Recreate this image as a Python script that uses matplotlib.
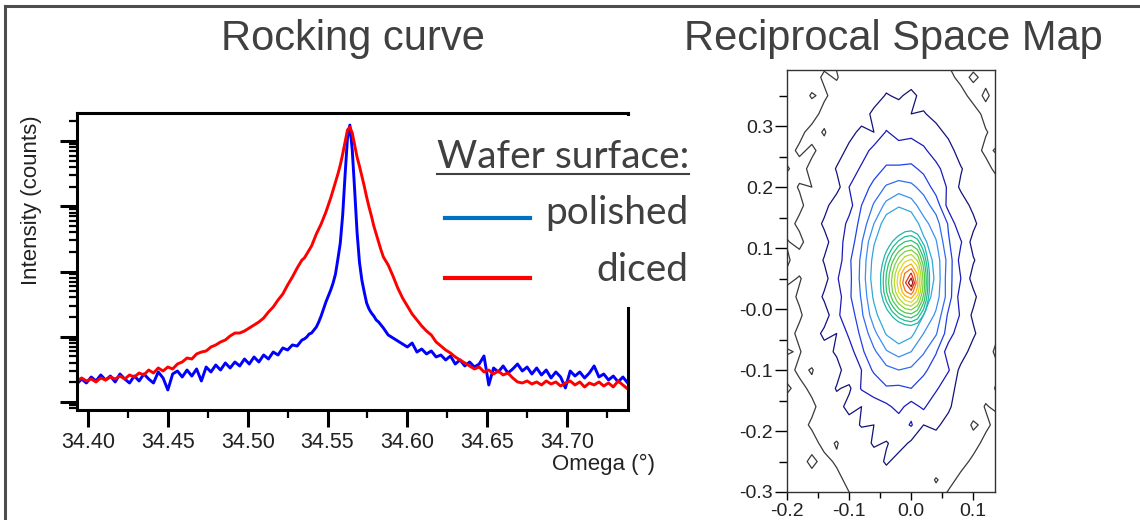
import numpy as np
import matplotlib
matplotlib.use("Agg")
import matplotlib.pyplot as plt
from matplotlib.lines import Line2D
from matplotlib.ticker import MultipleLocator, LogLocator, NullFormatter, FormatStrFormatter

plt.rcParams['font.family'] = ['Liberation Sans', 'DejaVu Sans']

# ---- rocking curve: omega (deg) and log10(counts) ----
omega = [34.393, 34.396, 34.399, 34.402, 34.405, 34.408, 34.411, 34.414, 34.417, 34.420,
         34.423, 34.426, 34.429, 34.432, 34.435, 34.438, 34.441, 34.444, 34.447, 34.450,
         34.453, 34.456, 34.459, 34.462, 34.465, 34.468, 34.471, 34.474, 34.477, 34.480,
         34.483, 34.486, 34.489, 34.492, 34.495, 34.498, 34.501, 34.504, 34.507, 34.510,
         34.513, 34.516, 34.519, 34.522, 34.525, 34.528, 34.531, 34.534,
         34.5355, 34.537, 34.5385, 34.540, 34.5415, 34.543, 34.5445, 34.546, 34.5475, 34.549,
         34.5505, 34.552, 34.5535, 34.555, 34.5565, 34.558, 34.5595, 34.561, 34.5625, 34.564,
         34.5655, 34.567, 34.5685, 34.570, 34.5715, 34.573, 34.5745, 34.576, 34.5775, 34.579,
         34.5805, 34.582, 34.5835, 34.585,
         34.588, 34.591, 34.594, 34.597, 34.600, 34.603, 34.606, 34.609, 34.612, 34.615,
         34.618, 34.621, 34.624, 34.627, 34.630, 34.633, 34.636, 34.639, 34.642, 34.645,
         34.648, 34.651, 34.654, 34.657, 34.660, 34.663, 34.666, 34.669, 34.672, 34.675,
         34.678, 34.681, 34.684, 34.687, 34.690, 34.693, 34.696, 34.699, 34.702, 34.705,
         34.708, 34.711, 34.714, 34.717, 34.720, 34.723, 34.726, 34.729, 34.732, 34.735,
         34.738]

polished_log10 = [1.276, 1.352, 1.291, 1.383, 1.322, 1.414, 1.337, 1.398, 1.307, 1.429,
                  1.352, 1.291, 1.398, 1.322, 1.429, 1.352, 1.291, 1.460, 1.368, 1.184,
                  1.429, 1.475, 1.383, 1.490, 1.398, 1.506, 1.322, 1.536, 1.460, 1.567,
                  1.490, 1.598, 1.521, 1.613, 1.552, 1.659, 1.582, 1.690, 1.613, 1.720,
                  1.659, 1.766, 1.720, 1.828, 1.797, 1.874, 1.858, 1.950,
                  1.966, 1.996, 2.042, 2.057, 2.103, 2.149, 2.226, 2.318, 2.425, 2.533,
                  2.625, 2.716, 2.824, 2.962, 3.192, 3.437, 3.866, 4.479, 5.046, 5.245,
                  4.862, 4.249, 3.605, 3.146, 2.870, 2.686, 2.517, 2.425, 2.364, 2.318,
                  2.257, 2.226, 2.180, 2.134,
                  2.027, 1.981, 1.935, 1.889, 1.843, 1.904, 1.766, 1.812, 1.736, 1.782,
                  1.690, 1.720, 1.644, 1.705, 1.582, 1.644, 1.552, 1.613, 1.536, 1.582,
                  1.705, 1.261, 1.521, 1.460, 1.552, 1.444, 1.506, 1.582, 1.475, 1.536,
                  1.429, 1.521, 1.414, 1.490, 1.368, 1.460, 1.383, 1.215, 1.475, 1.398,
                  1.460, 1.368, 1.444, 1.552, 1.383, 1.429, 1.337, 1.398, 1.307, 1.383,
                  1.291]

diced_log10 = [1.322, 1.368, 1.322, 1.352, 1.307, 1.368, 1.337, 1.383, 1.352, 1.398,
               1.352, 1.414, 1.383, 1.444, 1.414, 1.490, 1.444, 1.521, 1.475, 1.536,
               1.506, 1.582, 1.613, 1.674, 1.659, 1.736, 1.766, 1.782, 1.843, 1.874,
               1.920, 1.950, 2.012, 2.057, 2.057, 2.088, 2.134, 2.180, 2.226, 2.287,
               2.379, 2.456, 2.563, 2.655, 2.793, 2.916, 3.054, 3.176,
               3.207, 3.268, 3.330, 3.391, 3.483, 3.575, 3.651, 3.728, 3.820, 3.912,
               4.019, 4.127, 4.249, 4.372, 4.494, 4.632, 4.801, 4.985, 5.169, 5.215,
               5.123, 4.939, 4.755, 4.617, 4.464, 4.310, 4.142, 3.989, 3.851, 3.697,
               3.575, 3.452, 3.330, 3.222,
               3.100, 2.931, 2.747, 2.594, 2.471, 2.349, 2.257, 2.165, 2.088, 2.027,
               1.920, 1.858, 1.797, 1.751, 1.690, 1.644, 1.598, 1.552, 1.506, 1.536,
               1.460, 1.490, 1.429, 1.475, 1.414, 1.444, 1.368, 1.307, 1.291, 1.322,
               1.276, 1.307, 1.261, 1.322, 1.276, 1.307, 1.245, 1.291, 1.322, 1.261,
               1.307, 1.230, 1.291, 1.261, 1.307, 1.245, 1.291, 1.230, 1.322, 1.261,
               1.199]

series_labels = ['polished', 'diced']

# ---- reciprocal space map: contour level index, coarse grid + finer grid round the peak ----
qx_outer = [-0.20, -0.18, -0.16, -0.14, -0.12, -0.10, -0.08, -0.06, -0.04,
            -0.02, 0.00, 0.02, 0.04, 0.06, 0.08, 0.10, 0.12, 0.14]
qz_outer = [-0.31, -0.28, -0.25, -0.22, -0.19, -0.16, -0.13, -0.10, -0.07, -0.04,
            -0.01, 0.02, 0.05, 0.08, 0.11, 0.14, 0.17, 0.20, 0.23, 0.26,
            0.29, 0.32, 0.35, 0.38, 0.41]
rsm_outer = [
    [0.4, 0.0, 0.3, 0.0, 0.6, 0.3, 0.9, 0.5, 0.8, 0.5, 1.1, 0.6, 1.0, 0.1, 0.6, 0.1, 0.4, 0.0],
    [0.0, 0.5, 0.0, 0.4, 0.1, 0.9, 0.7, 1.4, 0.7, 1.2, 0.8, 1.2, 0.4, 1.0, 0.1, 0.5, 0.0, 0.4],
    [0.3, 0.0, 0.8, 0.1, 0.7, 0.6, 1.3, 0.8, 1.7, 1.0, 1.5, 0.8, 1.3, 0.7, 1.0, 0.2, 0.4, 0.0],
    [0.0, 0.5, 0.0, 0.9, 0.4, 1.2, 0.8, 1.7, 1.4, 2.0, 1.3, 1.5, 1.0, 1.3, 0.7, 1.0, 0.1, 0.4],
    [0.3, 0.0, 0.7, 0.5, 1.3, 1.0, 1.6, 1.5, 2.3, 2.0, 2.6, 1.5, 1.7, 1.1, 1.3, 0.3, 0.8, 0.0],
    [0.0, 0.4, 0.2, 1.1, 1.0, 1.9, 1.5, 2.4, 2.3, 2.8, 2.1, 2.7, 1.6, 1.7, 0.8, 1.2, 0.4, 0.8],
    [0.7, 0.1, 0.8, 0.7, 1.6, 1.3, 2.6, 2.6, 3.4, 3.3, 3.5, 2.8, 2.7, 1.6, 1.4, 0.7, 1.0, 0.3],
    [0.0, 0.8, 0.4, 1.3, 1.0, 2.3, 2.5, 3.7, 4.2, 4.5, 4.3, 3.8, 2.8, 2.6, 1.2, 1.3, 0.6, 0.7],
    [0.6, 0.4, 1.2, 1.0, 1.7, 2.0, 3.3, 4.3, 5.4, 5.9, 5.5, 4.6, 3.6, 2.0, 2.1, 1.0, 1.1, 0.1],
    [0.0, 0.8, 0.8, 1.8, 1.5, 2.7, 3.7, 5.2, 6.6, 7.3, 6.8, 5.5, 4.6, 3.0, 1.8, 1.7, 0.7, 0.6],
    [0.5, 0.3, 1.2, 0.9, 2.4, 2.8, 4.3, 6.1, 7.5, 7.5, 7.5, 6.5, 5.3, 3.3, 2.4, 1.3, 1.5, 0.3],
    [0.0, 0.7, 0.6, 1.7, 2.0, 3.3, 4.6, 6.7, 7.5, 7.5, 7.5, 7.2, 6.0, 4.0, 2.0, 1.8, 0.6, 1.0],
    [0.8, 0.4, 1.1, 1.1, 2.4, 3.2, 4.8, 7.1, 7.5, 7.5, 7.5, 7.5, 6.3, 3.9, 2.5, 1.1, 1.4, 0.4],
    [0.3, 1.1, 0.7, 1.6, 1.9, 3.3, 4.7, 6.9, 7.5, 7.5, 7.5, 7.4, 6.1, 4.1, 2.1, 1.6, 0.8, 0.9],
    [0.6, 0.1, 1.3, 1.1, 2.2, 2.8, 4.4, 6.4, 7.5, 7.5, 7.5, 6.8, 5.6, 3.6, 2.6, 1.1, 1.2, 0.4],
    [0.0, 0.8, 0.8, 1.7, 1.7, 2.8, 3.8, 5.5, 7.2, 7.5, 7.4, 5.9, 4.9, 3.4, 1.6, 1.8, 0.7, 0.8],
    [0.4, 0.2, 1.1, 1.1, 2.2, 2.1, 3.5, 4.6, 5.8, 6.4, 6.0, 4.9, 4.1, 2.1, 2.1, 1.2, 1.3, 0.3],
    [0.0, 0.6, 0.5, 1.4, 1.1, 2.5, 2.8, 3.9, 4.6, 5.0, 4.7, 4.2, 3.0, 2.4, 1.3, 1.5, 0.7, 1.0],
    [0.6, 0.1, 0.8, 0.6, 1.6, 1.7, 2.7, 2.9, 3.7, 3.6, 3.8, 3.2, 3.0, 1.6, 1.6, 0.8, 1.0, 0.0],
    [0.1, 0.7, 0.3, 0.9, 0.9, 1.8, 1.9, 2.9, 2.7, 3.1, 2.7, 2.8, 1.7, 2.0, 0.9, 1.1, 0.2, 0.7],
    [0.4, 0.2, 0.9, 0.4, 1.2, 1.1, 1.8, 1.5, 2.6, 2.0, 2.4, 1.6, 1.9, 1.2, 1.4, 0.6, 0.6, 0.0],
    [0.0, 0.5, 0.0, 0.9, 0.5, 1.3, 0.9, 1.8, 1.6, 2.2, 1.5, 1.6, 1.1, 1.4, 0.8, 1.1, 0.1, 0.5],
    [0.2, 0.0, 0.6, 0.3, 1.0, 0.7, 1.2, 0.9, 1.6, 1.3, 1.9, 1.0, 1.3, 0.7, 1.0, 0.0, 0.7, 0.0],
    [0.0, 0.2, 0.0, 0.7, 0.4, 1.2, 0.5, 1.2, 0.9, 1.4, 0.7, 1.4, 0.6, 0.9, 0.1, 0.7, 0.2, 0.5],
    [0.5, 0.0, 0.3, 0.1, 0.7, 0.1, 1.0, 0.4, 1.0, 0.5, 1.1, 0.7, 1.0, 0.3, 0.5, 0.0, 0.5, 0.0],
]

qx_inner = [-0.06, -0.05, -0.04, -0.03, -0.02, -0.01, 0.00, 0.01, 0.02, 0.03, 0.04]
qz_inner = [-0.047, -0.032, -0.017, -0.002, 0.013, 0.028, 0.043,
            0.058, 0.073, 0.088, 0.103, 0.118, 0.133, 0.148]
rsm_inner = [
    [6, 6, 6, 6, 6, 6, 6, 6, 6, 6, 6],
    [6, 6, 6, 6, 6, 6.5, 6.7, 6.2, 6, 6, 6],
    [6, 6, 6, 7.0, 8.1, 8.8, 9.1, 8.4, 6.6, 6, 6],
    [6, 6, 7.2, 8.8, 10.2, 11.1, 11.4, 10.5, 8.3, 6, 6],
    [6, 6.5, 8.5, 10.4, 12.0, 13.3, 13.8, 12.5, 9.8, 6.5, 6],
    [6, 7.2, 9.4, 11.5, 13.5, 15.3, 16.1, 14.1, 10.8, 7.2, 6],
    [6, 7.3, 9.7, 11.9, 14.1, 16.3, 18.5, 14.8, 11.2, 7.3, 6],
    [6, 7.3, 9.5, 11.6, 13.7, 15.6, 16.6, 14.4, 10.9, 7.3, 6],
    [6, 6.8, 8.9, 10.8, 12.6, 14.0, 14.6, 13.2, 10.2, 6.8, 6],
    [6, 6.1, 8.0, 9.7, 11.2, 12.3, 12.7, 11.6, 9.1, 6.1, 6],
    [6, 6, 6.8, 8.3, 9.6, 10.4, 10.7, 9.9, 7.8, 6, 6],
    [6, 6, 6, 6.8, 7.8, 8.6, 8.8, 8.1, 6.3, 6, 6],
    [6, 6, 6, 6, 6.1, 6.7, 6.9, 6.3, 6, 6, 6],
    [6, 6, 6, 6, 6, 6, 6, 6, 6, 6, 6],
]

rsm_xticks = [-0.2, -0.1, 0.0, 0.1]
rsm_xlabels = ['-0.2', '-0.1', '0.0', '0.1']
rsm_yticks = [-0.3, -0.2, -0.1, 0.0, 0.1, 0.2, 0.3]
rsm_ylabels = ['-0.3', '-0.2', '-0.1', '-0.0', '0.1', '0.2', '0.3']

level_colors = ['#3a3a3a', '#12127a', '#1a1ab8', '#2040e8', '#2f6cf0', '#3a90f0',
                '#30a8d8', '#20b4b0', '#20bc90', '#30c070', '#50c850', '#80d040',
                '#b0d830', '#e0d820', '#f8b010', '#f87010', '#e03010', '#a01008']

W, H = 1140, 520


def box(x0, y0, x1, y1):
    # pixel box (top-left origin) -> figure fraction
    return [x0 / W, 1 - y1 / H, (x1 - x0) / W, (y1 - y0) / H]


fig = plt.figure(figsize=(W / 100, H / 100), dpi=100)

# slide frame
fig.add_artist(Line2D([5 / W, 1], [1 - 6 / H] * 2, transform=fig.transFigure, color='#4d4d4d', lw=2.2))
fig.add_artist(Line2D([5 / W] * 2, [0, 1 - 6 / H], transform=fig.transFigure, color='#4d4d4d', lw=2.2))

fig.text(353 / W, 1 - 50 / H, 'Rocking curve', fontsize=30, color='#404040', ha='center', va='baseline')
fig.text(893 / W, 1 - 50 / H, 'Reciprocal Space Map', fontsize=30, color='#404040', ha='center', va='baseline')

# ---- rocking curve ----
ax = fig.add_axes(box(77, 113, 628, 410))
ax.plot(omega, 10 ** np.array(polished_log10), color='#0000ff', lw=2.1)
ax.plot(omega, 10 ** np.array(diced_log10), color='#ff0000', lw=2.1)
ax.set_yscale('log')
ax.set_xlim(34.3931, 34.7382)
ax.set_ylim(10 ** 0.877, 10 ** 5.43)
ax.xaxis.set_major_locator(MultipleLocator(0.05))
ax.xaxis.set_minor_locator(MultipleLocator(0.025))
ax.xaxis.set_major_formatter(FormatStrFormatter('%.2f'))
ax.yaxis.set_major_locator(LogLocator(base=10))
ax.yaxis.set_minor_locator(LogLocator(base=10, subs=np.arange(2, 10)))
ax.yaxis.set_major_formatter(NullFormatter())
ax.yaxis.set_minor_formatter(NullFormatter())
for s in ax.spines.values():
    s.set_linewidth(2.2)
ax.tick_params(which='major', direction='out', length=12, width=2.2,
               labelsize=15.5, labelcolor='#222222', pad=4)
ax.tick_params(which='minor', direction='out', length=5.5, width=1.6)
ax.set_xlabel('Omega (°)', fontsize=16, color='#222222')
ax.xaxis.set_label_coords(0.955, -0.148)
ax.set_ylabel('Intensity (counts)', fontsize=16, color='#222222')
ax.yaxis.set_label_coords(-0.0635, 0.707)

# legend panel (white box hides the upper right spine)
lg = fig.add_axes(box(436, 116, 700, 307))
lg.set_zorder(3)
lg.set_facecolor('white')
lg.set_xticks([])
lg.set_yticks([])
for s in lg.spines.values():
    s.set_visible(False)
lg.set_xlim(0, 1)
lg.set_ylim(0, 1)


def lx(px):
    return (px - 436) / 264


def ly(py):
    return (307 - py) / 191


head = lg.text(lx(689), ly(168), 'Wafer surface:', fontsize=28, family='Lato',
               color='#404040', ha='right', va='baseline')
lg.text(lx(688), ly(224), series_labels[0], fontsize=28, family='Lato',
        color='#404040', ha='right', va='baseline')
lg.text(lx(688), ly(281), series_labels[1], fontsize=28, family='Lato',
        color='#404040', ha='right', va='baseline')
lg.add_line(Line2D([lx(445), lx(530)], [ly(218)] * 2, color='#0070c0', lw=3))
lg.add_line(Line2D([lx(445), lx(530)], [ly(278)] * 2, color='#ff0000', lw=3))

fig.canvas.draw()
bb = head.get_window_extent()
base_y = lg.transAxes.transform((0, ly(168)))[1]
fig.add_artist(Line2D([bb.x0 / W, bb.x1 / W], [(base_y - 6) / H] * 2,
                      transform=fig.transFigure, color='#404040', lw=1.5, zorder=5))

# ---- reciprocal space map ----
ax2 = fig.add_axes(box(787, 70, 995, 492))
ax2.contour(qx_outer, qz_outer, np.array(rsm_outer), levels=np.arange(0.5, 7.0, 1.0),
            colors=level_colors[:7], linewidths=0.9)
ax2.contour(qx_inner, qz_inner, np.array(rsm_inner), levels=np.arange(7.5, 18.0, 1.0),
            colors=level_colors[7:], linewidths=0.9)
ax2.set_xlim(-0.2, 0.135)
ax2.set_ylim(-0.3, 0.392)
ax2.set_xticks(rsm_xticks, rsm_xlabels)
ax2.set_yticks(rsm_yticks, rsm_ylabels)
ax2.xaxis.set_minor_locator(MultipleLocator(0.05))
ax2.yaxis.set_minor_locator(MultipleLocator(0.05))
for s in ax2.spines.values():
    s.set_linewidth(1.0)
    s.set_color('#333333')
ax2.tick_params(axis='y', which='major', direction='out', length=9, width=1,
                labelsize=14, labelcolor='#222222', pad=1)
ax2.tick_params(axis='y', which='minor', direction='out', length=6, width=1)
ax2.tick_params(axis='x', which='major', direction='out', length=6, width=1,
                labelsize=14, labelcolor='#222222', pad=2)
ax2.tick_params(axis='x', which='minor', direction='out', length=4, width=1)

fig.savefig('out.png', dpi=100)
